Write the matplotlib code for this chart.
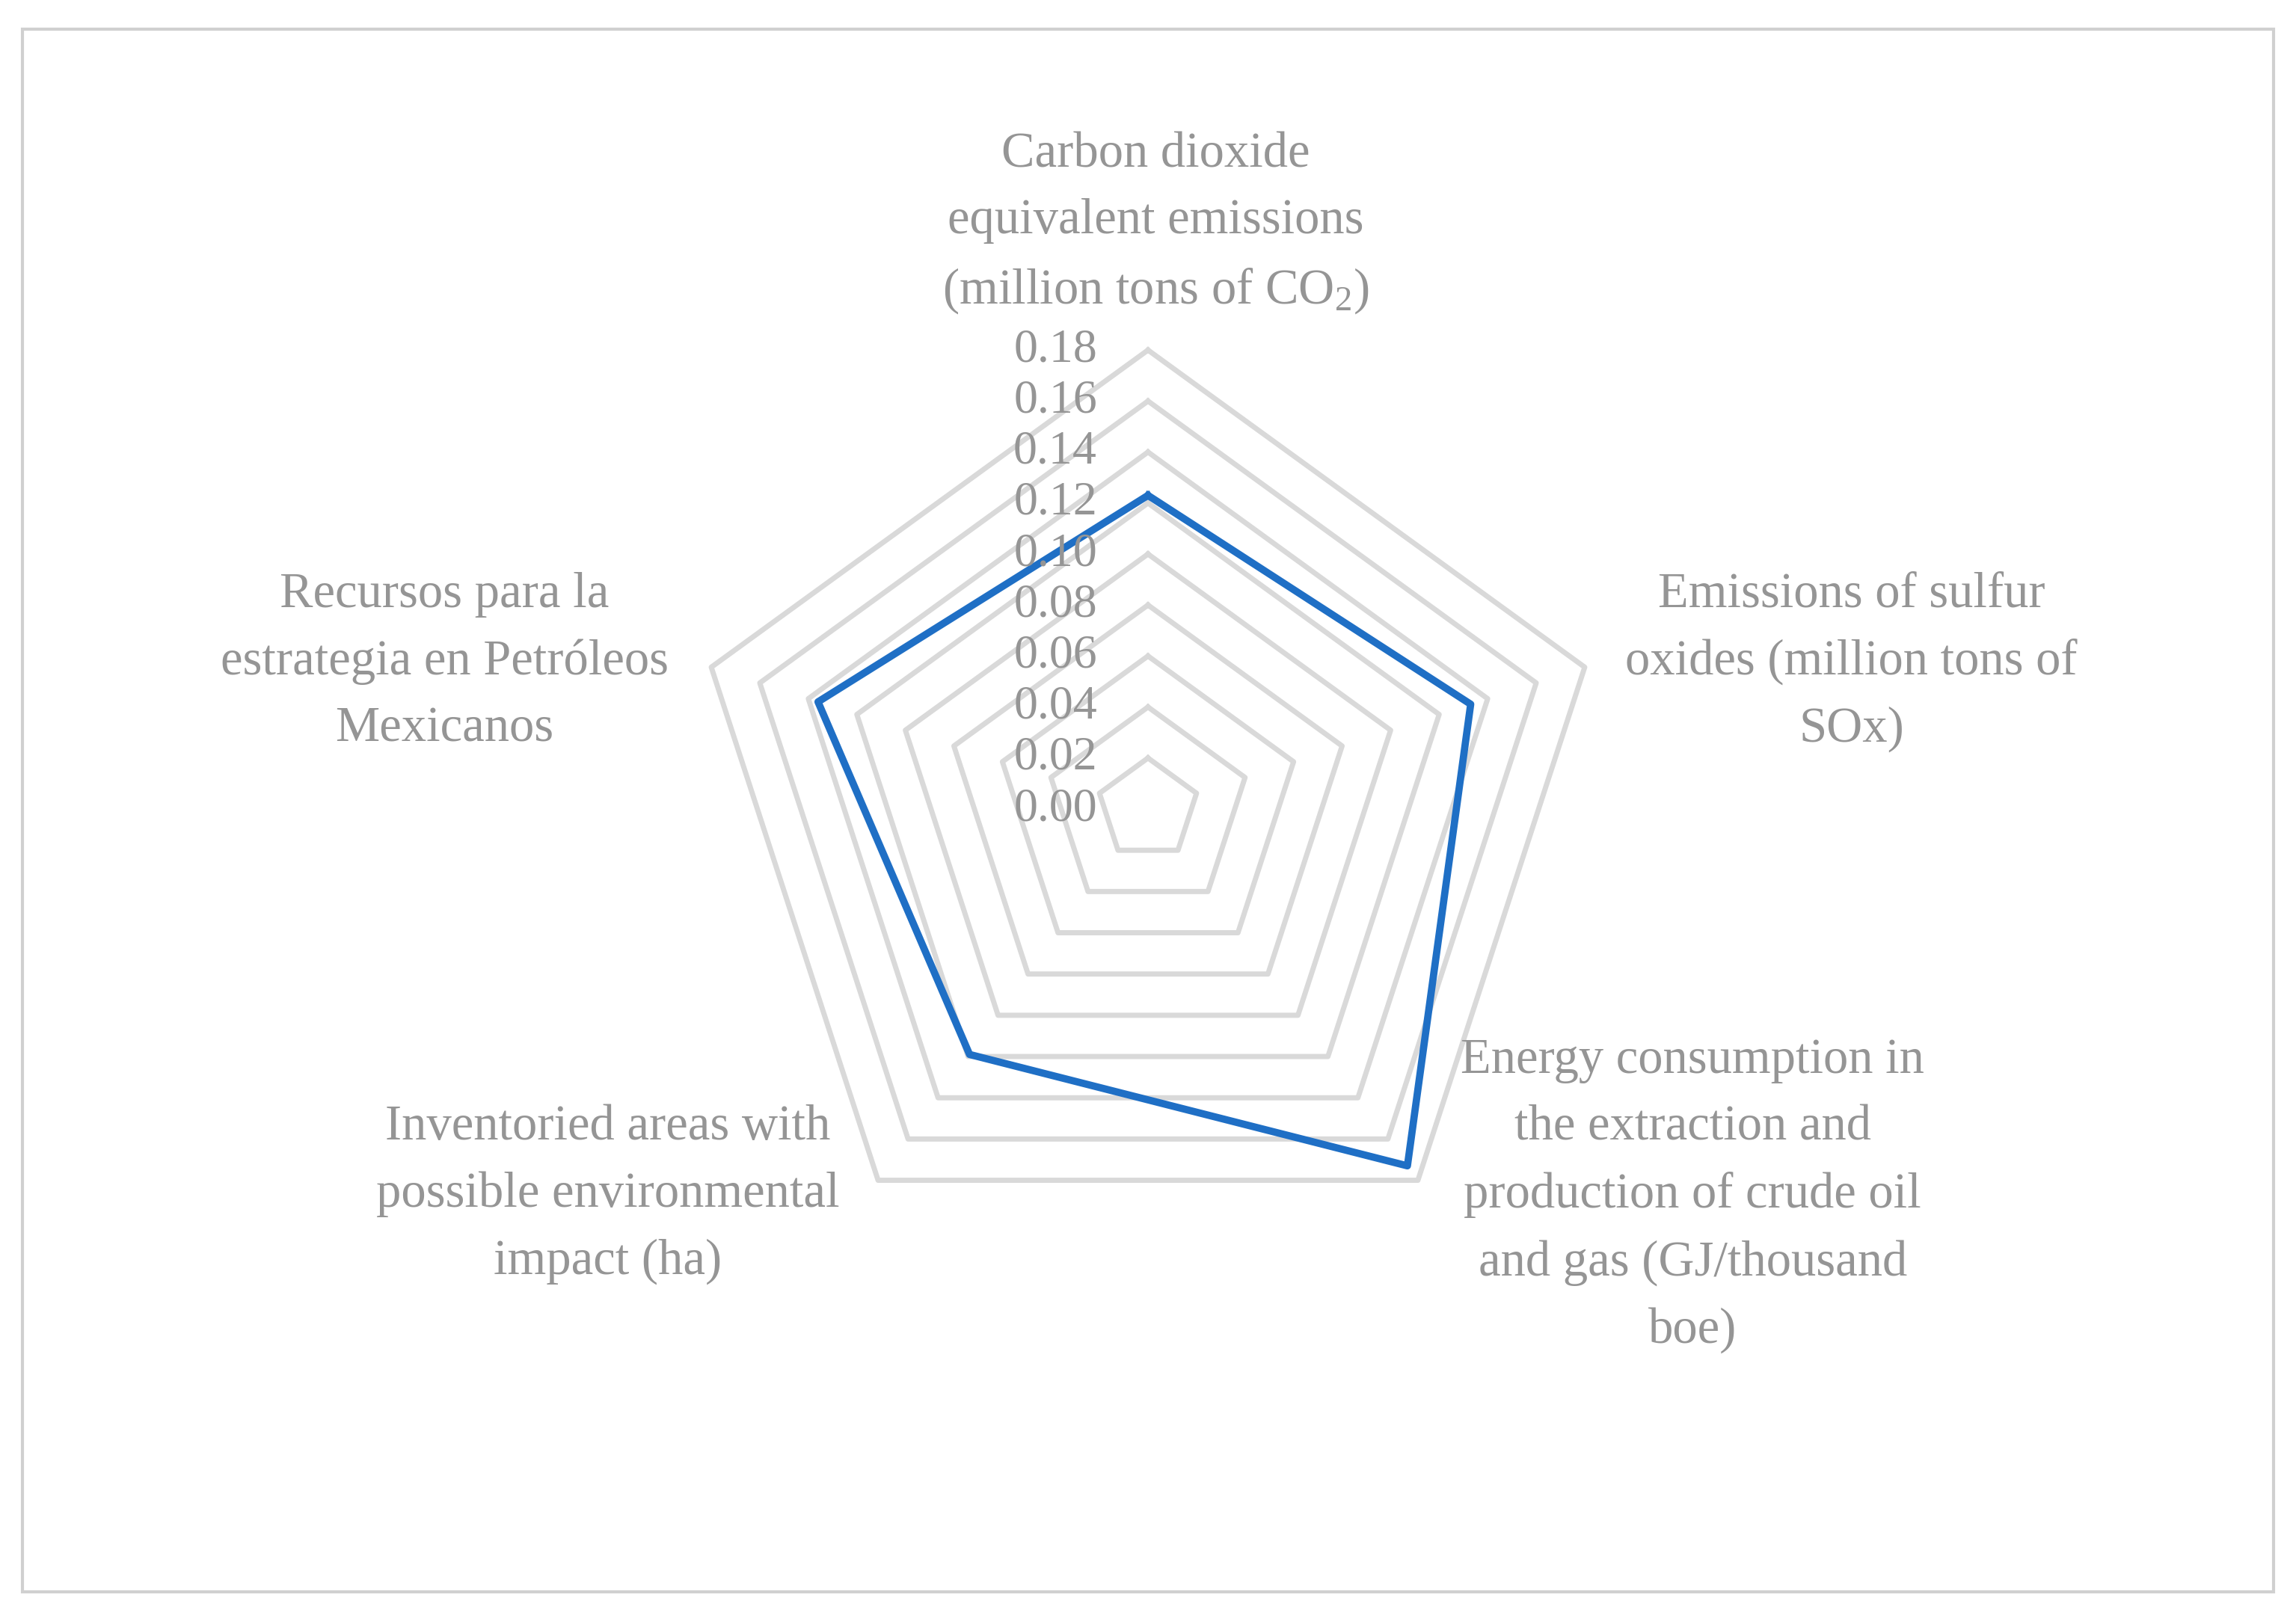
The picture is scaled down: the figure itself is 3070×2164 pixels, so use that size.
import numpy as np
import matplotlib
matplotlib.use("Agg")
import matplotlib.pyplot as plt
from matplotlib.patches import Rectangle

categories = ["Carbon dioxide\nequivalent emissions\n(million tons of CO$_2$)",
              "Emissions of sulfur\noxides (million tons of\nSOx)",
              "Energy consumption in\nthe extraction and\nproduction of crude oil\nand gas (GJ/thousand\nboe)",
              "Inventoried areas with\npossible environmental\nimpact (ha)",
              "Recursos para la\nestrategia en Petróleos\nMexicanos"]
values = [0.123, 0.133, 0.173, 0.119, 0.136]
ticks = [0.00, 0.02, 0.04, 0.06, 0.08, 0.10, 0.12, 0.14, 0.16, 0.18]

plt.rcParams['font.family'] = ['Liberation Serif', 'DejaVu Serif']
plt.rcParams['mathtext.fontset'] = 'custom'
plt.rcParams['mathtext.rm'] = 'Liberation Serif'
plt.rcParams['mathtext.it'] = 'Liberation Serif'

W, H = 1560, 1100
fig = plt.figure(figsize=(15.35, 10.82), dpi=200)
ax = fig.add_axes([0, 0, 1, 1])
ax.set_xlim(0, W); ax.set_ylim(H, 0); ax.axis('off')

cx, cy, R = 780, 550, 312
vmax = 0.18
ang = np.deg2rad(90 - 72 * np.arange(5))
def pt(v, a):
    r = R * v / vmax
    return cx + r * np.cos(a), cy - r * np.sin(a)

gray = '#d9d9d9'
for t in ticks[1:]:
    xs, ys = pt(t, ang)
    ax.plot(np.append(xs, xs[0]), np.append(ys, ys[0]), color=gray, lw=2.5, zorder=1)
for t in ticks:
    x, y = pt(t, np.pi / 2)
    ax.text(cx - 63, y, f"{t:.2f}", ha='center', va='center', fontsize=23, color='#959595', zorder=3)

xs, ys = pt(np.array(values), ang)
ax.plot(np.append(xs, xs[0]), np.append(ys, ys[0]), color='#1f6fc5', lw=3.5, zorder=2)

label_pos = [(785, 152), (1258, 450), (1150, 813), (413, 812), (302, 450)]
for lab, (x, y) in zip(categories, label_pos):
    ax.text(x, y, lab, ha='center', va='center', fontsize=24, color='#959595',
            linespacing=1.6, zorder=3)

ax.add_patch(Rectangle((15, 20), 1530, 1062, fill=False, ec='#d0d0d0', lw=1.5))
fig.savefig("out.png", dpi=200, facecolor='white')
